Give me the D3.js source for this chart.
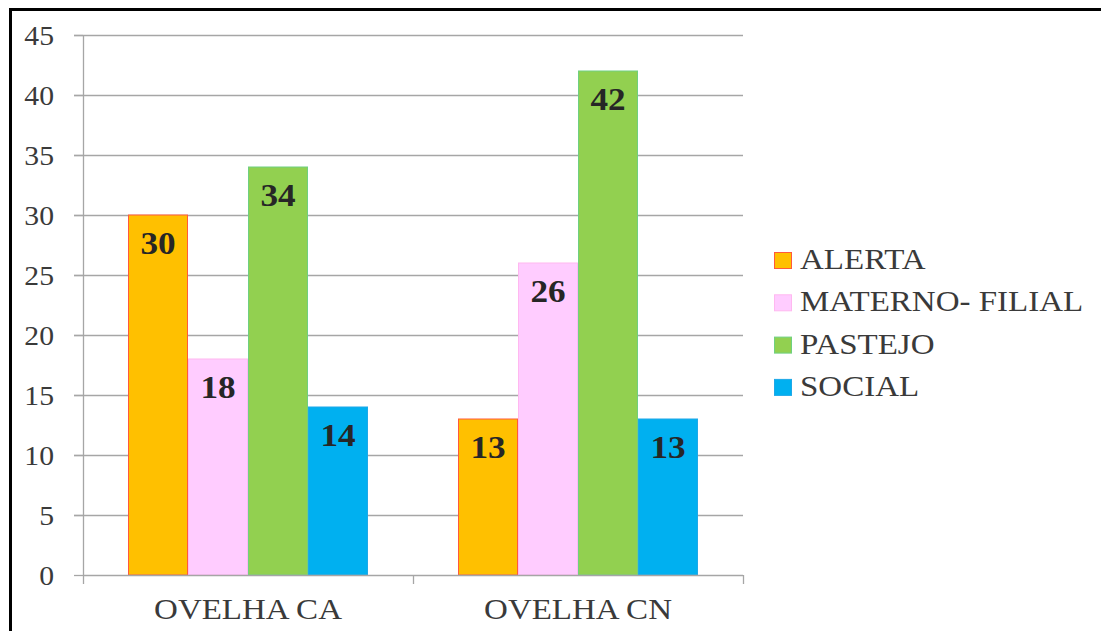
<!DOCTYPE html>
<html><head><meta charset="utf-8">
<script src="https://cdn.jsdelivr.net/npm/d3@7"></script>
<style>html,body{margin:0;padding:0;background:#fff} text{font-family:'Liberation Serif','Times New Roman',serif}</style>
</head><body>
<svg id="c" width="1101" height="631"></svg>
<script>
const categories = ["OVELHA CA", "OVELHA CN"];
const seriesNames = ["ALERTA", "MATERNO- FILIAL", "PASTEJO", "SOCIAL"];
const alerta = [30, 13];
const maternoFilial = [18, 26];
const pastejo = [34, 42];
const social = [14, 13];
const yTicks = [0, 5, 10, 15, 20, 25, 30, 35, 40, 45];
const fills = ["#FFC000", "#FFCCFF", "#92D050", "#00B0F0"];
const strokes = ["#FF5A3C", "#FFB8F0", "#6FD080", "#1EA8E8"];

const values = [alerta, maternoFilial, pastejo, social];
const svg = d3.select("#c");
const serif = "'Liberation Serif','Times New Roman',serif";
const STRETCH = 1.1;
function stretch(sel) {
  sel.each(function() {
    const w = this.getComputedTextLength();
    d3.select(this).attr("textLength", w * STRETCH).attr("lengthAdjust", "spacingAndGlyphs");
  });
}

svg.append("rect").attr("x", 10.5).attr("y", 9.5).attr("width", 1100).attr("height", 640)
  .attr("fill", "none").attr("stroke", "#000").attr("stroke-width", 3);

const L = 83, R = 743, T = 35, B = 575;
const x0 = d3.scaleBand().domain(categories).range([L, R]).paddingInner(0).paddingOuter(0);
const x1 = d3.scaleBand().domain(seriesNames).range([45, x0.bandwidth() - 45]).padding(0);
const y = d3.scaleLinear().domain([0, 45]).range([B, T]);

// gridlines
svg.append("g").selectAll("line").data(yTicks.filter(d => d > 0)).join("line")
  .attr("x1", L - 9).attr("x2", R).attr("y1", d => Math.round(y(d)) + 0.5).attr("y2", d => Math.round(y(d)) + 0.5)
  .attr("stroke", "#a6a6a6").attr("stroke-width", 1.3);

// y axis
const yAxis = svg.append("g").attr("transform", `translate(${L},0)`)
  .call(d3.axisLeft(y).tickValues(yTicks).tickSize(9).tickPadding(20));
yAxis.attr("font-family", serif);
yAxis.select(".domain").attr("stroke", "#a6a6a6").attr("stroke-width", 1.3).attr("d", `M0.5,${T}V${B}`);
yAxis.selectAll(".tick line").attr("stroke", "#a6a6a6").attr("stroke-width", 1.3);
yAxis.selectAll(".tick text").style("font-family", serif).attr("font-size", 27).attr("fill", "#3a3a3a")
  .attr("dy", "0.36em").call(stretch);

// bars
const groups = svg.append("g").selectAll("g").data(categories).join("g")
  .attr("transform", c => `translate(${x0(c)},0)`);
groups.selectAll("rect").data((c, i) => seriesNames.map((s, j) => ({s, j, v: values[j][i]}))).join("rect")
  .attr("x", d => x1(d.s) + 0.5).attr("width", x1.bandwidth() - 1)
  .attr("y", d => y(d.v)).attr("height", d => B - y(d.v))
  .attr("fill", d => fills[d.j]).attr("stroke", d => strokes[d.j]).attr("stroke-width", 1);
groups.selectAll("text").data((c, i) => seriesNames.map((s, j) => ({s, j, v: values[j][i]}))).join("text")
  .attr("x", d => x1(d.s) + x1.bandwidth() / 2).attr("y", d => y(d.v) + 39)
  .attr("text-anchor", "middle").style("font-family", serif).attr("font-weight", "bold")
  .attr("font-size", 32).attr("fill", "#262626").text(d => d.v).call(stretch);

// x axis
const xAxis = svg.append("g").attr("transform", `translate(0,${B})`)
  .call(d3.axisBottom(x0).tickSize(0).tickPadding(0));
xAxis.attr("font-family", serif);
xAxis.select(".domain").attr("stroke", "#a6a6a6").attr("stroke-width", 1.3).attr("d", `M${L},0.5H${R}`);
xAxis.selectAll(".tick text").attr("dy", null).attr("y", 44).style("font-family", serif)
  .attr("font-size", 30).attr("fill", "#3a3a3a").call(stretch);
svg.append("g").selectAll("line").data([L, L + x0.bandwidth(), R]).join("line")
  .attr("x1", d => d + 0.5).attr("x2", d => d + 0.5).attr("y1", B).attr("y2", B + 9)
  .attr("stroke", "#a6a6a6").attr("stroke-width", 1.3);

// legend
const leg = svg.append("g").attr("transform", "translate(774,252)");
const li = leg.selectAll("g").data(seriesNames).join("g").attr("transform", (d, i) => `translate(0,${i * 42.3})`);
li.append("rect").attr("x", 0.5).attr("y", 0.5).attr("width", 17).attr("height", 16)
  .attr("fill", (d, i) => fills[i]).attr("stroke", (d, i) => strokes[i]);
li.append("text").attr("x", 26).attr("y", 17).style("font-family", serif).attr("font-size", 30)
  .attr("fill", "#3a3a3a").text(d => d).call(stretch);
</script>
</body></html>
